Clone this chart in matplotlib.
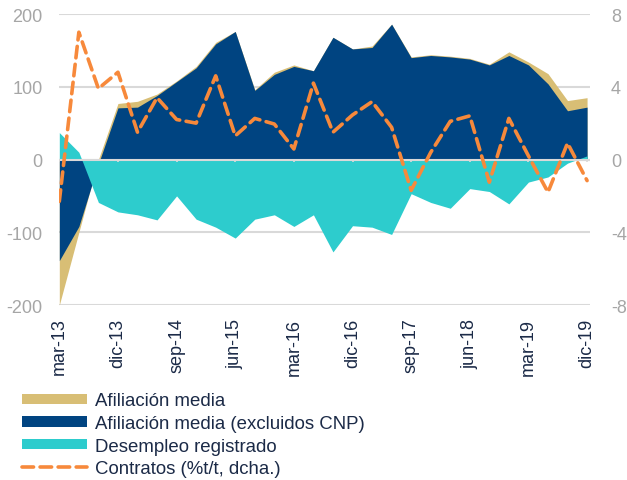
import numpy as np
import matplotlib
matplotlib.use("Agg")
import matplotlib.pyplot as plt

plt.rcParams['font.family'] = ['Liberation Sans', 'DejaVu Sans']
plt.rcParams['axes.unicode_minus'] = False

# quarterly series, mar-13 .. dic-19
quarters = [f"{m}-{y}" for y in range(13, 20) for m in ["mar", "jun", "sep", "dic"]]

afiliacion = [-200, -100, 0, 77, 80, 90, 108, 128, 161, 176, 96, 120, 130, 122,
              168, 152, 156, 186, 141, 144, 142, 139, 131, 148, 134, 118, 81, 85]
afiliacion_sin_cnp = [-139, -92, -6, 71, 72, 88, 107, 126, 159, 176, 95, 117, 128, 122,
                      168, 152, 154, 186, 140, 143, 141, 138, 130, 143, 130, 104, 67, 72]
desempleo = [37, 10, -59, -72, -76, -83, -50, -82, -93, -108, -82, -76, -92, -76,
             -127, -91, -93, -103, -47, -59, -67, -40, -44, -61, -31, -24, -5, 5]
contratos = [-2.3, 7.0, 3.9, 4.8, 1.5, 3.4, 2.2, 2.0, 4.6, 1.3, 2.26, 1.95, 0.58, 4.2,
             1.5, 2.45, 3.18, 1.77, -1.7, 0.39, 2.1, 2.4, -1.25, 2.26, 0.2, -1.8, 0.9, -1.16]

SAND = "#D8BE75"
NAVY = "#004481"
AQUA = "#2DCCCD"
ORANGE = "#F7893B"
GRID = "#D9D9D9"
TICK = "#A6A6A6"
TEXT = "#1B2A47"

x = np.arange(len(quarters))

fig = plt.figure(figsize=(6.27, 4.81), dpi=100)
ax = fig.add_axes([0.0946, 0.3638, 0.8464, 0.605])
ax2 = ax.twinx()

h1 = ax.fill_between(x, 0, afiliacion, color=SAND, lw=0, label="Afiliación media")
h2 = ax.fill_between(x, 0, afiliacion_sin_cnp, color=NAVY, lw=0,
                     label="Afiliación media (excluidos CNP)")
h3 = ax.fill_between(x, 0, desempleo, color=AQUA, lw=0, label="Desempleo registrado")
ax.axhline(0, color=GRID, lw=1.5, zorder=5)
ticks = x[::3]
ax.vlines(ticks, -4, 0, color=GRID, lw=1.2, zorder=5)

h4, = ax2.plot(x, contratos, color=ORANGE, lw=2.6, ls=(0, (3.2, 1.8)),
               dash_capstyle='round', label="Contratos (%t/t, dcha.)")

ax.set_xlim(0, 27.15)
ax.set_ylim(-200, 200)
ax2.set_ylim(-8, 8)
ax.set_yticks([-200, -100, 0, 100, 200])
ax2.set_yticks([-8, -4, 0, 4, 8])
ax.set_axisbelow(True)
ax.grid(axis='y', color=GRID, lw=1.5)

ax.set_xticks(ticks)
ax.set_xticklabels([quarters[i] for i in ticks], rotation=90, color=TEXT, fontsize=13)
ax.tick_params(axis='x', length=0, pad=9)
ax.tick_params(axis='y', length=0, pad=12, labelcolor=TICK, labelsize=13)
ax2.tick_params(axis='y', length=0, pad=15, labelcolor=TICK, labelsize=13)

for a in (ax, ax2):
    for s in a.spines.values():
        s.set_visible(False)

fig.legend(handles=[h1, h2, h3, h4], loc='upper left', bbox_to_anchor=(0.035, 0.182),
           frameon=False, fontsize=13.4, handlelength=3.5, handleheight=0.5,
           handletextpad=0.45, labelspacing=0.3, borderpad=0, borderaxespad=0,
           labelcolor=TEXT)

fig.savefig("out.png", dpi=100)
